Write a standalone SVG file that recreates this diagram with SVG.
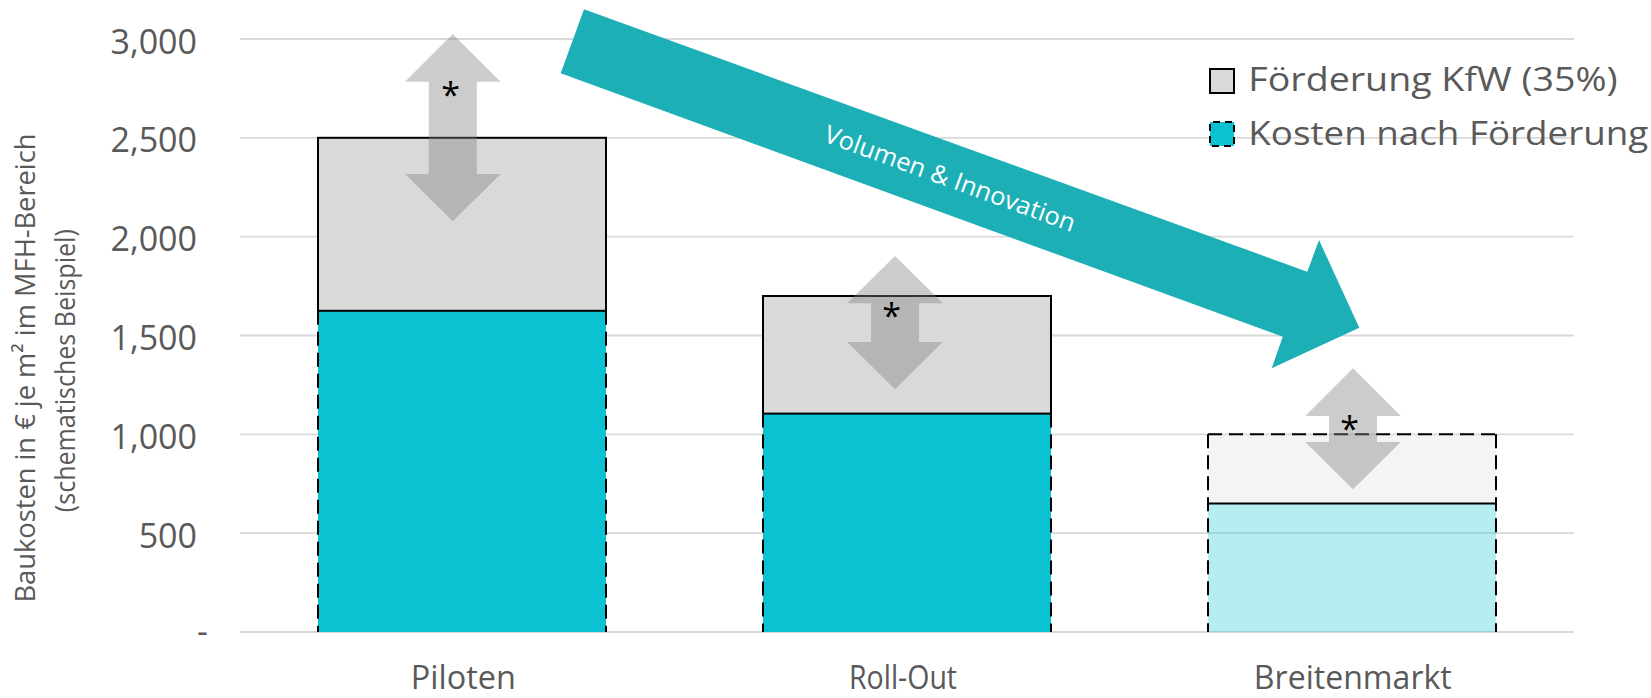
<svg xmlns="http://www.w3.org/2000/svg" width="1651" height="698" viewBox="0 0 1651 698">
<style>
  .grid { stroke:#D9D9D9; stroke-width:1.8; fill:none; }
  .lbl { font-family:'Open Sans','Noto Sans','Liberation Sans',sans-serif; fill:#595959; }
  .tick { font-size:34px; text-anchor:end; }
  .cat { font-size:33px; text-anchor:middle; }
  .leg { font-size:33px; }
  .ttl { font-size:28px; text-anchor:middle; }
  .kfw { fill:#D9D9D9; stroke:#000; stroke-width:2; }
  .cost { fill:#0AC2D1; stroke:none; }
  .dash { stroke:#000; stroke-width:2; stroke-dasharray:14 7; fill:none; }
  .dbl { fill:#7F7F7F; fill-opacity:0.4; stroke:none; }
  .star { font-family:'Open Sans','Noto Sans','Liberation Sans',sans-serif; font-size:34px; fill:#000; text-anchor:middle; }
  .big { fill:#1CB0B6; }
  .bigtxt { font-family:'Open Sans','Noto Sans','Liberation Sans',sans-serif; font-size:25px; fill:#FFFFFF; text-anchor:middle; }
</style>
<rect x="0" y="0" width="1651" height="698" fill="#FFFFFF"/>

<g id="gridlines">
  <line class="grid" x1="240" y1="39" x2="1574" y2="39"/>
  <line class="grid" x1="240" y1="137.8" x2="1574" y2="137.8"/>
  <line class="grid" x1="240" y1="236.7" x2="1574" y2="236.7"/>
  <line class="grid" x1="240" y1="335.5" x2="1574" y2="335.5"/>
  <line class="grid" x1="240" y1="434.3" x2="1574" y2="434.3"/>
  <line class="grid" x1="240" y1="533.2" x2="1574" y2="533.2"/>
  <line class="grid" x1="240" y1="632" x2="1574" y2="632"/>
</g>

<g id="y-axis" class="lbl">
  <text class="tick" x="197" y="53.5">3,000</text>
  <text class="tick" x="197" y="152.3">2,500</text>
  <text class="tick" x="197" y="251.2">2,000</text>
  <text class="tick" x="197" y="350">1,500</text>
  <text class="tick" x="197" y="448.8">1,000</text>
  <text class="tick" x="197" y="547.7">500</text>
  <text class="tick" x="208" y="643">-</text>
  <text class="ttl" transform="translate(35,368) rotate(-90)" x="0" y="0" textLength="469" lengthAdjust="spacingAndGlyphs">Baukosten in € je m² im MFH-Bereich</text>
  <text class="ttl" transform="translate(74.5,370.7) rotate(-90)" x="0" y="0" textLength="283" lengthAdjust="spacingAndGlyphs">(schematisches Beispiel)</text>
</g>

<g id="bar-piloten">
  <rect class="cost" x="318" y="310.8" width="288" height="321.2"/>
  <line class="dash" x1="318" y1="310.8" x2="318" y2="632"/>
  <line class="dash" x1="606" y1="310.8" x2="606" y2="632"/>
  <rect class="kfw" x="318" y="137.8" width="288" height="173"/>
</g>

<g id="bar-rollout">
  <rect class="cost" x="763" y="413.6" width="288" height="218.4"/>
  <line class="dash" x1="763" y1="413.6" x2="763" y2="632"/>
  <line class="dash" x1="1051" y1="413.6" x2="1051" y2="632"/>
  <rect class="kfw" x="763" y="296" width="288" height="117.6"/>
</g>

<g id="bar-breitenmarkt">
  <rect x="1208" y="503.5" width="288" height="128.5" fill="#0AC2D1" fill-opacity="0.3"/>
  <rect x="1208" y="434.3" width="288" height="69.2" fill="#D9D9D9" fill-opacity="0.3"/>
  <line class="dash" x1="1208" y1="434.3" x2="1208" y2="632"/>
  <line class="dash" x1="1496" y1="434.3" x2="1496" y2="632"/>
  <line class="dash" x1="1208" y1="434.3" x2="1496" y2="434.3"/>
  <line x1="1208" y1="503.5" x2="1496" y2="503.5" stroke="#000" stroke-width="2"/>
</g>

<g id="connectors">
  <g id="arrow-piloten">
    <path class="dbl" d="M452.8,34 L500.6,81.7 L476.8,81.7 L476.8,174 L500.6,174 L452.8,221.3 L405,174 L428.8,174 L428.8,81.7 L405,81.7 Z"/>
    <text class="star" x="450.5" y="106.5">*</text>
  </g>
  <g id="arrow-rollout">
    <path class="dbl" d="M895,256 L942.8,303.3 L919,303.3 L919,342 L942.8,342 L895,389.3 L847.2,342 L871,342 L871,303.3 L847.2,303.3 Z"/>
    <text class="star" x="891.7" y="328">*</text>
  </g>
  <g id="arrow-breitenmarkt">
    <path class="dbl" d="M1353,368.3 L1400.8,416 L1377,416 L1377,442 L1400.8,442 L1353,489.3 L1305.2,442 L1329,442 L1329,416 L1305.2,416 Z"/>
    <text class="star" x="1349.7" y="441">*</text>
  </g>
  <g id="trend-arrow">
    <polygon class="big" points="584,9.3 1307.3,271.7 1319,240 1359.3,327.7 1271.7,368.3 1282.7,336.7 560.7,73.3"/>
    <text class="bigtxt" transform="translate(950,178.7) rotate(20)" x="0" y="8.5" textLength="265" lengthAdjust="spacingAndGlyphs">Volumen &amp; Innovation</text>
  </g>
</g>

<g id="x-axis" class="lbl">
  <text class="cat" x="463.3" y="688.5" textLength="105" lengthAdjust="spacingAndGlyphs">Piloten</text>
  <text class="cat" x="903" y="688.5" textLength="108" lengthAdjust="spacingAndGlyphs">Roll-Out</text>
  <text class="cat" x="1352.8" y="688.5" textLength="198" lengthAdjust="spacingAndGlyphs">Breitenmarkt</text>
</g>

<g id="legend">
  <rect x="1210" y="69" width="24" height="24" fill="#D9D9D9" stroke="#000" stroke-width="2"/>
  <text class="lbl leg" x="1248.3" y="91" textLength="369.4" lengthAdjust="spacingAndGlyphs">Förderung KfW (35%)</text>
  <rect x="1210" y="122" width="24" height="24" fill="#0AC2D1" stroke="#000" stroke-width="2" stroke-dasharray="7 5" stroke-dashoffset="-3"/>
  <text class="lbl leg" x="1248.3" y="145" textLength="400" lengthAdjust="spacingAndGlyphs">Kosten nach Förderung</text>
</g>
</svg>
